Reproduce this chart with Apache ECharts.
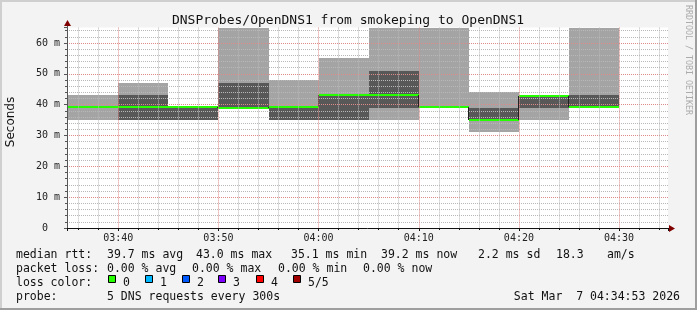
<!DOCTYPE html>
<html><head><meta charset="utf-8">
<script src="https://cdn.jsdelivr.net/npm/echarts@6/dist/echarts.min.js"></script>
<style>html,body{margin:0;padding:0;background:#f3f3f3}#c{width:697px;height:310px}</style>
</head><body><div id="c"></div>
<script>
// ---- data (ms), one entry per 5-minute interval, pings sorted low -> high ----
const intervalStarts = ['03:30','03:35','03:40','03:45','03:50','03:55','04:00','04:05','04:10','04:15','04:20','04:25'];
const ping1  = [35.0, 35.0, 35.0, 35.0, 38.8, 35.0, 35.0, 35.0, 39.0, 31.2, 35.0, 39.0];
const ping2  = [39.0, 39.0, 35.0, 35.0, 38.8, 35.0, 35.0, 39.0, 39.0, 35.0, 39.0, 39.0];
const median = [39.1, 39.1, 39.1, 39.1, 38.8, 39.1, 43.0, 43.0, 39.1, 35.1, 42.8, 39.2];
const ping4  = [39.0, 39.0, 43.1, 39.1, 47.1, 39.1, 43.1, 50.9, 39.1, 39.0, 43.1, 43.1];
const ping5  = [47.1, 43.1, 47.1, 39.1, 72.0, 48.0, 55.2, 72.0, 72.0, 44.2, 43.1, 72.0];
const axisStart = '03:34:53';
const axisEnd = '04:34:53';
const yMax = 65;
const lossLabels = ['0','1','2','3','4','5/5'];
const lossColors = ['#26ff00','#00b8ff','#0059ff','#7e00ff','#ff0000','#a10000'];

const toMin = s => { const p = s.split(':').map(Number); return p[0]*60 + p[1] + (p[2]||0)/60; };
const pad = n => (n < 10 ? '0' : '') + n;
const LIGHT = '#a4a4a4', DARK = '#585858', GREEN = lossColors[0];
const MONO = '"DejaVu Sans Mono", monospace';
const GRID = '#b8b8b8', MGRID = '#de8a8a';

const data = intervalStarts.map((t, i) => [toMin(t), toMin(t) + 5, ping1[i], ping2[i], median[i], ping4[i], ping5[i], i > 0 ? median[i-1] : median[i]]);

function renderItem(params, api) {
  const cs = params.coordSys;
  const L = cs.x, R = cs.x + cs.width, T = cs.y, B = cs.y + cs.height;
  const rawX0 = Math.round(api.coord([api.value(0), 0])[0]);
  const x0 = Math.max(L, rawX0);
  const x1 = Math.min(R, Math.round(api.coord([api.value(1), 0])[0]));
  if (x1 <= x0) return;
  const Y = v => Math.round(Math.max(T, Math.min(B, api.coord([api.value(0), v])[1])));
  const children = [];
  const band = (lo, hi, color) => {
    const yt = Y(hi), yb = Y(lo);
    if (yb - yt > 0) children.push({type: 'rect', shape: {x: x0, y: yt, width: x1 - x0, height: yb - yt}, style: {fill: color}});
  };
  band(api.value(2), api.value(6), LIGHT);
  band(api.value(3), api.value(5), DARK);
  const ym = Y(api.value(4)), yp = Y(api.value(7));
  if (Math.abs(ym - yp) > 0 && rawX0 >= L) {
    children.push({type: 'line', shape: {x1: x0 - 0.5, y1: yp, x2: x0 - 0.5, y2: ym}, style: {stroke: '#202020', lineWidth: 1}});
  }
  children.push({type: 'rect', shape: {x: x0, y: ym - 1, width: x1 - x0, height: 2}, style: {fill: GREEN}});
  return {type: 'group', children};
}

const chart = echarts.init(document.getElementById('c'), null, {renderer: 'canvas'});
const gl = 67, gr = 668, gt = 228 - yMax * 185 / 60, gb = 228;

const txt = (x, y, text, extra) => Object.assign({type: 'text', x, y, z: 10,
  style: Object.assign({text, fill: '#111', font: '11.5px ' + MONO, align: 'left', verticalAlign: 'middle'}, (extra||{}))});

const graphics = [
  {type: 'rect', shape: {x: 0, y: 0, width: 697, height: 2}, style: {fill: '#cfcfcf'}, z: 10},
  {type: 'rect', shape: {x: 0, y: 0, width: 2, height: 310}, style: {fill: '#cfcfcf'}, z: 10},
  {type: 'rect', shape: {x: 0, y: 308, width: 697, height: 2}, style: {fill: '#9e9e9e'}, z: 10},
  {type: 'rect', shape: {x: 695, y: 0, width: 2, height: 310}, style: {fill: '#9e9e9e'}, z: 10},
  txt(348, 20.5, 'DNSProbes/OpenDNS1 from smokeping to OpenDNS1', {font: '13px ' + MONO, align: 'center'}),
  Object.assign(txt(11, 122, 'Seconds', {font: '12px "DejaVu Sans"', align: 'center'}), {rotation: Math.PI/2}),
  Object.assign(txt(688, 60, 'RRDTOOL / TOBI OETIKER', {font: '8.3px ' + MONO, align: 'center', fill: '#ababab'}), {rotation: -Math.PI/2}),
  {type: 'line', shape: {x1: gl + 0.5, y1: 24, x2: gl + 0.5, y2: gt + 1}, style: {stroke: '#555', lineWidth: 1}, z: 10},
  {type: 'line', shape: {x1: gr - 1, y1: gb + 0.5, x2: 672, y2: gb + 0.5}, style: {stroke: '#111', lineWidth: 1}, z: 10},
  {type: 'polygon', shape: {points: [[gl - 3, 26], [gl + 4, 26], [gl + 0.5, 20]]}, style: {fill: '#800000'}, z: 10},
  {type: 'polygon', shape: {points: [[669, gb - 3], [669, gb + 4], [675, gb + 0.5]]}, style: {fill: '#800000'}, z: 10},
  txt(16, 255, 'median rtt:'),
  txt(107, 255, '39.7 ms avg'),
  txt(196, 255, '43.0 ms max'),
  txt(291, 255, '35.1 ms min'),
  txt(381, 255, '39.2 ms now'),
  txt(478, 255, '2.2 ms sd'),
  txt(556, 255, '18.3'),
  txt(607, 255, 'am/s'),
  txt(16, 269, 'packet loss:'),
  txt(107, 269, '0.00 % avg'),
  txt(192, 269, '0.00 % max'),
  txt(278, 269, '0.00 % min'),
  txt(363, 269, '0.00 % now'),
  txt(16, 283, 'loss color:'),
  txt(16, 297, 'probe:'),
  txt(107, 297, '5 DNS requests every 300s'),
  txt(680, 297, 'Sat Mar  7 04:34:53 2026', {align: 'right'})
];
const boxX = [108, 145, 182, 218, 256, 293];
lossLabels.forEach((lab, i) => {
  graphics.push({type: 'rect', z: 10, shape: {x: boxX[i] + 0.5, y: 275.5, width: 7, height: 7}, style: {fill: lossColors[i], stroke: '#000', lineWidth: 1}});
  graphics.push(txt(boxX[i] + 15, 283, lab));
});

chart.setOption({
  backgroundColor: '#f3f3f3',
  animation: false,
  grid: {left: gl, right: 697 - gr, top: gt, bottom: 310 - gb, show: true, backgroundColor: '#ffffff', borderWidth: 0},
  xAxis: {
    type: 'value', min: toMin(axisStart), max: toMin(axisEnd), minInterval: 10, maxInterval: 10, z: 5,
    axisLine: {show: true, lineStyle: {color: '#111', width: 1}},
    axisTick: {show: true, length: 3, lineStyle: {color: '#111'}},
    minorTick: {show: true, splitNumber: 5, length: 2, lineStyle: {color: '#111'}},
    axisLabel: {show: true, margin: 4, fontFamily: MONO, fontSize: 10, color: '#222', lineHeight: 12, showMinLabel: false, showMaxLabel: false,
      formatter: v => { const m = Math.round(v); if (Math.abs(v - m) > 1e-6 || m % 10) return ''; return pad(Math.floor(m / 60)) + ':' + pad(m % 60); }},
    splitLine: {show: true, showMinLine: false, showMaxLine: false, lineStyle: {color: MGRID, type: [1, 1], width: 1}},
    minorSplitLine: {show: true, lineStyle: {color: GRID, type: [1, 1], width: 1}}
  },
  yAxis: {
    type: 'value', min: 0, max: yMax, interval: 10, z: 5,
    axisLine: {show: true, lineStyle: {color: '#555', width: 1}},
    axisTick: {show: true, length: 3, lineStyle: {color: '#555'}},
    minorTick: {show: true, splitNumber: 5, length: 2, lineStyle: {color: '#555'}},
    axisLabel: {show: true, margin: 7, fontFamily: MONO, fontSize: 10, color: '#222', showMaxLabel: false,
      formatter: v => v === 0 ? '0  ' : (v % 10 === 0 ? v + ' m' : '')},
    splitLine: {show: true, showMinLine: false, showMaxLine: false, lineStyle: {color: MGRID, type: [1, 1], width: 1}},
    minorSplitLine: {show: true, lineStyle: {color: GRID, type: [1, 1], width: 1}}
  },
  series: [{
    type: 'custom', renderItem, data, z: 2, clip: true,
    encode: {x: [0, 1], y: [2, 6]}
  }],
  graphic: graphics
});
</script></body></html>
